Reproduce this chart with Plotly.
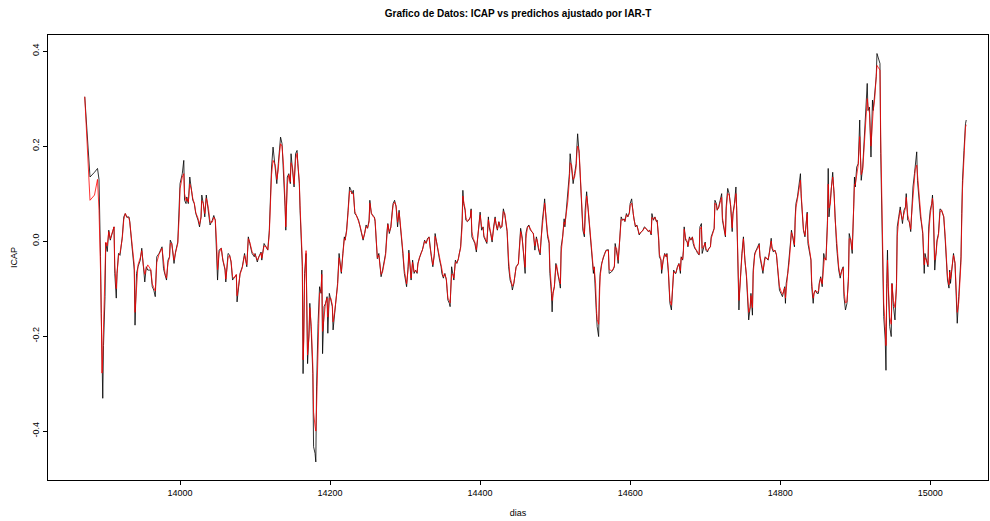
import plotly.graph_objects as go

# ---- data ----
dias = [
    13873, 13880, 13886, 13890, 13892, 13893, 13894, 13895, 13896, 13897,
    13898, 13900, 13901, 13903, 13905, 13907, 13912, 13913, 13915, 13916,
    13918, 13920, 13923, 13925, 13927, 13929, 13932, 13933, 13936, 13939,
    13940, 13942, 13944, 13947, 13949, 13951, 13953, 13955, 13957, 13961,
    13963, 13965, 13967, 13969, 13972, 13976, 13978, 13980, 13982, 13984,
    13986, 13987, 13989, 13992, 13994, 13997, 13999, 14000, 14003, 14005,
    14006, 14008, 14009, 14011, 14013, 14015, 14017, 14019, 14021, 14024,
    14026, 14028, 14029, 14031, 14033, 14035, 14036, 14038, 14040, 14043,
    14045, 14047, 14049, 14050, 14052, 14055, 14057, 14060,
    14061, 14064, 14066, 14068, 14070, 14072, 14075, 14076, 14078, 14080,
    14083, 14084, 14086, 14089, 14091, 14093, 14096, 14099, 14100, 14103,
    14105, 14108, 14109, 14112, 14115, 14117, 14119, 14120, 14122, 14124,
    14127, 14129, 14131, 14132, 14134, 14136, 14138, 14140, 14141, 14143,
    14145, 14147, 14148, 14150, 14152, 14154, 14156, 14157, 14159,
    14160, 14161, 14163, 14164, 14165, 14166, 14168, 14170, 14172, 14173,
    14175, 14177, 14178, 14180, 14181, 14182, 14184, 14186, 14188, 14189,
    14190, 14192, 14194, 14196, 14197, 14199, 14201, 14203, 14204, 14206,
    14208, 14210, 14212, 14213, 14215, 14217, 14219, 14220, 14222, 14224,
    14226, 14228, 14229, 14231, 14233, 14235, 14236, 14238, 14240, 14242,
    14244, 14246, 14248, 14250, 14252, 14253, 14255, 14257,
    14259, 14260, 14262, 14263, 14265, 14267, 14268, 14270, 14272, 14274,
    14276, 14277, 14279, 14281, 14283, 14284, 14286, 14288, 14290, 14292,
    14293, 14295, 14297, 14299, 14300, 14302, 14304, 14305, 14307, 14308,
    14310, 14312, 14314, 14316, 14317, 14319, 14321, 14323, 14324, 14326,
    14328, 14330, 14332, 14333, 14335, 14337, 14339, 14340, 14342, 14344,
    14346, 14348, 14349, 14351, 14353, 14355, 14356,
    14357, 14359, 14360, 14362, 14364, 14365, 14367, 14369, 14371, 14372,
    14374, 14376, 14377, 14378, 14380, 14381, 14383, 14385, 14387, 14388,
    14389, 14391, 14393, 14395, 14397, 14399, 14400, 14402, 14404, 14405,
    14407, 14409, 14411, 14412, 14414, 14416, 14418, 14420, 14421, 14423,
    14425, 14427, 14429, 14431, 14433, 14435, 14436, 14438, 14440, 14442,
    14443, 14445, 14447, 14448, 14451, 14452, 14454,
    14456, 14458, 14460, 14461, 14463, 14465, 14467, 14469, 14471, 14473,
    14475, 14476, 14478, 14480, 14481, 14483, 14485, 14486, 14488, 14490,
    14492, 14493, 14495, 14496, 14497, 14499, 14501, 14502, 14504, 14506,
    14507, 14508, 14510, 14512, 14513, 14515, 14517, 14519, 14520, 14522,
    14524, 14526, 14528, 14529, 14530, 14532, 14534, 14536, 14537, 14539,
    14540, 14542, 14544, 14546, 14548, 14549, 14551, 14552, 14554,
    14555, 14556, 14558, 14559, 14560, 14562, 14564, 14566, 14568, 14571,
    14572, 14575, 14577, 14579, 14580, 14582, 14583, 14584, 14586, 14588,
    14590, 14592, 14593, 14595, 14597, 14599, 14600, 14602, 14604, 14605,
    14607, 14609, 14611, 14612, 14615, 14617, 14619, 14621, 14624, 14626,
    14628, 14629, 14631, 14633, 14635, 14636, 14638, 14639, 14641, 14642,
    14644, 14646, 14648, 14649, 14651, 14652,
    14653, 14655, 14656, 14658, 14660, 14661, 14663, 14665, 14667, 14668,
    14670, 14671, 14672, 14674, 14676, 14677, 14679, 14681, 14683, 14684,
    14686, 14688, 14690, 14692, 14693, 14695, 14696, 14698, 14700, 14701,
    14703, 14705, 14707, 14708, 14710, 14712, 14713, 14715, 14716, 14718,
    14720, 14722, 14723, 14725, 14727, 14728, 14730, 14732, 14734, 14736,
    14737, 14739, 14741, 14742, 14744, 14745, 14746, 14747, 14749, 14751,
    14752, 14753, 14755, 14757, 14758, 14760, 14761, 14763, 14764, 14766,
    14768, 14770, 14772, 14773, 14775, 14777, 14779, 14780, 14782, 14784,
    14786, 14788, 14789, 14791, 14793, 14795, 14796, 14798, 14799, 14801,
    14803, 14804, 14806, 14807, 14808, 14810, 14812, 14814, 14815, 14817,
    14819, 14820, 14821, 14823, 14824, 14826, 14827, 14828, 14830, 14831,
    14833, 14835, 14836, 14837, 14839, 14841, 14842, 14844, 14845, 14847,
    14849,
    14851, 14852, 14854, 14856, 14858, 14859, 14861, 14863, 14864, 14865,
    14867, 14868, 14870, 14872, 14873, 14875, 14876, 14878, 14880, 14882,
    14884, 14885, 14887, 14889, 14891, 14892, 14894, 14896, 14898, 14899,
    14900, 14902, 14904, 14906, 14907, 14908, 14910, 14912, 14914, 14916,
    14917, 14919, 14921, 14923, 14924, 14926, 14928, 14929, 14931, 14933,
    14934, 14936, 14937, 14938, 14940, 14941, 14942, 14943, 14944, 14946,
    14948,
    14949, 14951, 14953, 14955, 14956, 14958, 14960, 14963, 14965, 14967,
    14968, 14970, 14972, 14974, 14975, 14977, 14979, 14980, 14982, 14983,
    14985, 14987, 14988, 14990, 14992, 14993, 14995, 14997, 14998, 15000,
    15002, 15003, 15004, 15006, 15008, 15009, 15011, 15013, 15015, 15016,
    15018, 15020, 15022, 15023, 15025, 15026, 15027, 15029, 15031, 15033,
    15035, 15036, 15038, 15039, 15041, 15042, 15043, 15045, 15046, 15047,
    15048,
]

icap = [
    0.304, 0.135, 0.145, 0.153, 0.130, 0.065, -0.033, -0.152, -0.257, -0.331,
    -0.220, -0.117, -0.004, -0.022, 0.023, 0.002, 0.030, -0.068, -0.120, -0.068,
    -0.026, -0.030, 0.009, 0.051, 0.058, 0.050, 0.051, 0.041, -0.012, -0.061,
    -0.177, -0.068, -0.054, -0.040, -0.015, -0.061, -0.086, -0.054, -0.061, -0.061,
    -0.096, -0.103, -0.117, -0.033, -0.026, -0.012, -0.058, -0.071, -0.082, -0.040,
    -0.033, 0.002, -0.005, -0.047, -0.023, -0.002, 0.065, 0.121, 0.142, 0.170,
    0.086, 0.079, 0.093, 0.079, 0.135, 0.107, 0.086, 0.079, 0.058, 0.044,
    0.030, 0.051, 0.097, 0.079, 0.051, 0.097, 0.086, 0.065, 0.034, 0.044,
    0.054, 0.044, -0.026, -0.082, -0.019, -0.015, -0.040, -0.061,
    -0.086, -0.026, -0.029, -0.044, -0.082, -0.078, -0.071, -0.128, -0.089, -0.068,
    -0.054, -0.047, -0.026, -0.054, 0.009, -0.005, -0.026, -0.033, -0.026, -0.044,
    -0.033, -0.023, -0.040, -0.005, -0.012, -0.019, 0.023, 0.086, 0.156, 0.198,
    0.149, 0.121, 0.163, 0.184, 0.219, 0.205, 0.149, 0.072, 0.023, 0.135,
    0.142, 0.121, 0.184, 0.149, 0.114, 0.184, 0.191, 0.163, 0.121,
    0.065, 0.023, -0.054, -0.279, -0.194, -0.068, -0.026, -0.258, -0.187, -0.131,
    -0.194, -0.279, -0.433, -0.447, -0.465, -0.307, -0.173, -0.096, -0.110, -0.061,
    -0.237, -0.138, -0.131, -0.117, -0.194, -0.110, -0.124, -0.138, -0.187, -0.152,
    -0.124, -0.089, -0.026, -0.047, -0.068, -0.026, 0.009, 0.002, 0.023, 0.065,
    0.114, 0.107, 0.100, 0.107, 0.058, 0.054, 0.051, 0.044, 0.030, 0.016,
    0.002, 0.016, 0.034, 0.027, 0.044, 0.086, 0.058, 0.054,
    0.051, 0.041, -0.033, -0.037, -0.026, -0.054, -0.075, -0.061, -0.040, -0.026,
    0.023, 0.037, 0.016, 0.030, 0.065, 0.079, 0.086, 0.072, 0.030, 0.065,
    0.044, 0.016, -0.026, -0.068, -0.075, -0.096, -0.054, -0.019, -0.061, -0.082,
    -0.040, -0.068, -0.061, -0.068, -0.047, -0.033, -0.026, -0.019, -0.012, 0.002,
    -0.005, 0.006, 0.009, -0.012, -0.033, -0.054, -0.026, 0.016, -0.005, -0.019,
    -0.040, -0.054, -0.068, -0.078, -0.068, -0.082, -0.103,
    -0.124, -0.131, -0.138, -0.054, -0.068, -0.082, -0.040, -0.047, -0.037, -0.026,
    -0.012, 0.044, 0.107, 0.079, 0.065, 0.044, 0.041, 0.044, 0.051, 0.068,
    0.009, 0.002, -0.005, -0.023, 0.016, 0.044, 0.061, 0.023, 0.030, 0.009,
    0.002, -0.005, 0.051, 0.030, 0.016, -0.002, 0.030, 0.051, 0.037, 0.023,
    0.041, 0.027, 0.030, 0.068, 0.054, 0.037, 0.020, -0.054, -0.082, -0.092,
    -0.103, -0.089, -0.061, -0.054, -0.047, -0.012, 0.027,
    0.009, -0.026, -0.068, 0.016, 0.030, 0.034, 0.023, 0.020, 0.016, -0.019,
    0.009, 0.002, -0.019, -0.029, 0.002, 0.044, 0.072, 0.089, 0.044, 0.009,
    -0.005, -0.068, -0.110, -0.149, -0.110, -0.096, -0.047, -0.054, -0.075, -0.089,
    -0.099, -0.012, 0.009, 0.047, 0.030, 0.065, 0.093, 0.142, 0.184, 0.156,
    0.121, 0.142, 0.163, 0.198, 0.226, 0.184, 0.121, 0.072, 0.023, 0.009,
    0.065, 0.104, 0.065, 0.030, -0.012, -0.040, -0.068, -0.054, -0.103,
    -0.152, -0.180, -0.201, -0.103, -0.068, -0.047, -0.033, -0.026, -0.019, -0.018,
    -0.068, -0.065, -0.061, -0.054, -0.005, -0.019, -0.033, -0.047, 0.002, 0.051,
    0.044, 0.047, 0.041, 0.058, 0.051, 0.061, 0.079, 0.089, 0.058, 0.044,
    0.030, 0.034, 0.020, 0.013, 0.020, 0.023, 0.030, 0.027, 0.020, 0.023,
    0.013, 0.058, 0.044, 0.051, 0.041, 0.044, 0.002, -0.033, -0.040, -0.068,
    -0.040, -0.026, -0.033, -0.026, -0.068, -0.117,
    -0.131, -0.145, -0.103, -0.061, -0.068, -0.068, -0.054, -0.047, -0.068, -0.033,
    -0.040, -0.019, 0.030, 0.002, -0.002, -0.012, 0.009, 0.002, 0.009, -0.005,
    -0.015, -0.019, -0.026, -0.029, 0.030, 0.037, -0.026, -0.012, -0.002, -0.019,
    -0.023, -0.015, -0.012, 0.009, 0.020, 0.027, 0.086, 0.079, 0.065, 0.072,
    0.086, 0.100, 0.044, 0.030, 0.009, 0.072, 0.111, 0.100, 0.072, 0.020,
    0.058, 0.079, 0.114, 0.065, -0.068, -0.145, -0.103, -0.068, -0.026, 0.009,
    -0.026, -0.040, -0.075, -0.124, -0.166, -0.138, -0.110, -0.156, -0.061, -0.026,
    -0.019, -0.015, -0.005, -0.033, -0.054, -0.068, -0.040, -0.033, -0.037, -0.040,
    -0.019, 0.006, -0.015, -0.023, -0.019, -0.029, -0.047, -0.082, -0.103, -0.110,
    -0.117, -0.110, -0.096, -0.131, -0.089, -0.068, -0.040, 0.002, 0.023, 0.009,
    -0.012, 0.051, 0.079, 0.093, 0.107, 0.128, 0.142, 0.093, 0.030, 0.023,
    0.009, 0.044, 0.061, -0.005, -0.019, -0.040, -0.096, -0.131, -0.110, -0.103,
    -0.110,
    -0.110, -0.089, -0.075, -0.096, -0.026, -0.033, -0.040, 0.044, 0.153, 0.051,
    0.086, 0.121, 0.145, 0.093, 0.044, -0.005, -0.026, -0.061, -0.078, -0.061,
    -0.054, -0.117, -0.145, -0.131, -0.075, 0.016, 0.002, -0.026, 0.072, 0.135,
    0.114, 0.156, 0.163, 0.255, 0.177, 0.128, 0.156, 0.212, 0.269, 0.332,
    0.275, 0.282, 0.177, 0.297, 0.275, 0.311, 0.346, 0.395, 0.381, 0.374,
    0.184, 0.002, -0.082, -0.159, -0.208, -0.272, -0.089, -0.019, -0.096, -0.180,
    -0.201,
    -0.089, -0.138, -0.166, -0.089, 0.030, 0.051, 0.072, 0.037, 0.065, 0.072,
    0.100, 0.044, 0.041, 0.020, 0.058, 0.114, 0.142, 0.163, 0.188, 0.128,
    0.079, 0.051, 0.041, 0.016, -0.068, -0.026, -0.040, -0.054, 0.030, 0.065,
    0.079, 0.097, 0.065, -0.061, -0.019, 0.002, 0.016, 0.068, 0.065, 0.061,
    0.051, 0.002, -0.054, -0.082, -0.099, -0.061, -0.089, -0.054, -0.026, -0.047,
    -0.117, -0.173, -0.117, -0.096, -0.033, 0.058, 0.128, 0.191, 0.233, 0.247,
    0.255,
]

predichos = [
    0.304, 0.086, 0.097, 0.130, 0.065, 0.020, -0.060, -0.150, -0.278, -0.240,
    -0.190, -0.060, -0.002, -0.010, 0.020, 0.005, 0.030, -0.050, -0.100, -0.070,
    -0.030, -0.025, 0.005, 0.045, 0.058, 0.052, 0.048, 0.040, 0.000, -0.050,
    -0.150, -0.090, -0.050, -0.035, -0.020, -0.050, -0.070, -0.058, -0.050, -0.060,
    -0.090, -0.098, -0.105, -0.045, -0.028, -0.015, -0.050, -0.068, -0.078, -0.045,
    -0.035, -0.005, -0.005, -0.040, -0.025, -0.005, 0.055, 0.110, 0.135, 0.142,
    0.100, 0.085, 0.090, 0.082, 0.120, 0.110, 0.090, 0.080, 0.060, 0.048,
    0.035, 0.050, 0.085, 0.080, 0.058, 0.090, 0.085, 0.068, 0.040, 0.040,
    0.050, 0.045, -0.010, -0.060, -0.025, -0.015, -0.038, -0.058,
    -0.080, -0.035, -0.030, -0.042, -0.075, -0.078, -0.070, -0.115, -0.095, -0.070,
    -0.056, -0.048, -0.030, -0.050, 0.005, -0.002, -0.022, -0.030, -0.028, -0.040,
    -0.035, -0.025, -0.036, -0.010, -0.012, -0.018, 0.015, 0.070, 0.140, 0.170,
    0.160, 0.130, 0.150, 0.175, 0.205, 0.200, 0.160, 0.085, 0.030, 0.120,
    0.140, 0.125, 0.165, 0.155, 0.120, 0.170, 0.185, 0.165, 0.125,
    0.075, 0.030, -0.040, -0.250, -0.210, -0.090, -0.020, -0.240, -0.200, -0.140,
    -0.180, -0.260, -0.360, -0.390, -0.400, -0.350, -0.200, -0.110, -0.105, -0.070,
    -0.190, -0.150, -0.130, -0.120, -0.160, -0.120, -0.120, -0.135, -0.170, -0.150,
    -0.125, -0.095, -0.035, -0.045, -0.065, -0.030, 0.005, 0.002, 0.020, 0.060,
    0.105, 0.105, 0.100, 0.100, 0.062, 0.055, 0.050, 0.045, 0.032, 0.018,
    0.005, 0.015, 0.030, 0.028, 0.040, 0.080, 0.060, 0.052,
    0.050, 0.045, -0.020, -0.035, -0.030, -0.050, -0.070, -0.065, -0.045, -0.030,
    0.015, 0.035, 0.020, 0.028, 0.060, 0.075, 0.082, 0.075, 0.040, 0.060,
    0.048, 0.020, -0.020, -0.060, -0.072, -0.090, -0.060, -0.025, -0.055, -0.078,
    -0.045, -0.065, -0.062, -0.066, -0.050, -0.035, -0.028, -0.020, -0.014, 0.000,
    -0.004, 0.004, 0.008, -0.010, -0.030, -0.050, -0.030, 0.010, -0.002, -0.018,
    -0.038, -0.052, -0.065, -0.075, -0.070, -0.080, -0.100,
    -0.120, -0.125, -0.130, -0.070, -0.070, -0.078, -0.045, -0.045, -0.038, -0.028,
    -0.015, 0.030, 0.095, 0.085, 0.068, 0.050, 0.042, 0.045, 0.050, 0.065,
    0.020, 0.005, -0.002, -0.018, 0.010, 0.040, 0.055, 0.030, 0.028, 0.012,
    0.005, -0.002, 0.045, 0.035, 0.018, 0.002, 0.025, 0.048, 0.040, 0.025,
    0.040, 0.030, 0.030, 0.062, 0.058, 0.040, 0.022, -0.040, -0.075, -0.088,
    -0.095, -0.088, -0.065, -0.055, -0.048, -0.015, 0.020,
    0.005, -0.020, -0.055, 0.005, 0.028, 0.032, 0.025, 0.020, 0.015, -0.010,
    0.005, 0.002, -0.015, -0.025, 0.000, 0.035, 0.065, 0.080, 0.050, 0.015,
    0.000, -0.055, -0.095, -0.125, -0.115, -0.095, -0.055, -0.050, -0.070, -0.085,
    -0.090, -0.025, 0.005, 0.040, 0.035, 0.060, 0.085, 0.130, 0.165, 0.160,
    0.130, 0.135, 0.155, 0.185, 0.200, 0.190, 0.130, 0.080, 0.030, 0.015,
    0.055, 0.095, 0.070, 0.035, -0.005, -0.035, -0.060, -0.055, -0.090,
    -0.140, -0.165, -0.175, -0.115, -0.075, -0.050, -0.035, -0.028, -0.020, -0.020,
    -0.060, -0.062, -0.060, -0.052, -0.012, -0.015, -0.030, -0.040, 0.000, 0.045,
    0.045, 0.045, 0.042, 0.055, 0.052, 0.058, 0.075, 0.080, 0.062, 0.046,
    0.032, 0.032, 0.022, 0.015, 0.020, 0.022, 0.028, 0.027, 0.021, 0.022,
    0.015, 0.050, 0.046, 0.050, 0.042, 0.042, 0.008, -0.028, -0.038, -0.060,
    -0.042, -0.028, -0.032, -0.028, -0.062, -0.105,
    -0.125, -0.135, -0.110, -0.065, -0.066, -0.066, -0.056, -0.048, -0.062, -0.035,
    -0.038, -0.022, 0.025, 0.005, 0.000, -0.010, 0.006, 0.003, 0.008, -0.002,
    -0.012, -0.018, -0.024, -0.028, 0.025, 0.030, -0.015, -0.012, -0.004, -0.016,
    -0.020, -0.016, -0.012, 0.005, 0.018, 0.026, 0.080, 0.075, 0.066, 0.070,
    0.082, 0.092, 0.050, 0.032, 0.012, 0.065, 0.100, 0.098, 0.075, 0.028,
    0.055, 0.075, 0.100, 0.070, -0.050, -0.125, -0.105, -0.070, -0.030, 0.005,
    -0.030, -0.042, -0.070, -0.115, -0.150, -0.140, -0.115, -0.140, -0.070, -0.030,
    -0.020, -0.016, -0.008, -0.030, -0.050, -0.062, -0.045, -0.035, -0.036, -0.038,
    -0.022, 0.000, -0.012, -0.020, -0.020, -0.028, -0.045, -0.075, -0.095, -0.105,
    -0.112, -0.108, -0.098, -0.120, -0.095, -0.070, -0.045, -0.005, 0.018, 0.010,
    -0.008, 0.040, 0.070, 0.088, 0.100, 0.118, 0.128, 0.100, 0.040, 0.025,
    0.012, 0.040, 0.058, 0.005, -0.015, -0.038, -0.085, -0.120, -0.112, -0.104,
    -0.108,
    -0.105, -0.092, -0.078, -0.090, -0.035, -0.035, -0.040, 0.030, 0.120, 0.070,
    0.080, 0.110, 0.135, 0.100, 0.050, 0.005, -0.022, -0.055, -0.072, -0.064,
    -0.056, -0.105, -0.130, -0.128, -0.085, 0.005, 0.005, -0.018, 0.060, 0.120,
    0.118, 0.145, 0.160, 0.220, 0.190, 0.140, 0.150, 0.200, 0.250, 0.300,
    0.285, 0.270, 0.200, 0.270, 0.275, 0.300, 0.335, 0.370, 0.365, 0.360,
    0.220, 0.040, -0.060, -0.130, -0.180, -0.220, -0.110, -0.040, -0.090, -0.160,
    -0.175,
    -0.090, -0.125, -0.140, -0.100, 0.010, 0.045, 0.065, 0.045, 0.060, 0.070,
    0.092, 0.055, 0.042, 0.025, 0.052, 0.100, 0.130, 0.150, 0.160, 0.140,
    0.090, 0.058, 0.045, 0.020, -0.050, -0.035, -0.040, -0.050, 0.015, 0.055,
    0.075, 0.090, 0.075, -0.040, -0.025, -0.002, 0.012, 0.060, 0.066, 0.060,
    0.052, 0.010, -0.045, -0.075, -0.092, -0.065, -0.080, -0.058, -0.030, -0.045,
    -0.105, -0.150, -0.130, -0.100, -0.045, 0.040, 0.110, 0.175, 0.220, 0.240,
    0.245,
]

x_ticks = [14000, 14200, 14400, 14600, 14800, 15000]
x_tick_labels = ["14000", "14200", "14400", "14600", "14800", "15000"]
y_ticks = [-0.4, -0.2, 0.0, 0.2, 0.4]
y_tick_labels = ["-0.4", "-0.2", "0.0", "0.2", "0.4"]

FONT = "Liberation Sans, Arial, sans-serif"

fig = go.Figure()
fig.add_trace(go.Scatter(x=dias, y=icap, mode="lines", name="ICAP",
                         line=dict(color="black", width=0.8)))
fig.add_trace(go.Scatter(x=dias, y=predichos, mode="lines", name="predichos",
                         line=dict(color="red", width=0.8)))

fig.update_layout(
    width=990, height=521,
    margin=dict(l=48, r=2, t=35, b=41),
    paper_bgcolor="white", plot_bgcolor="white",
    showlegend=False,
    font=dict(family=FONT, color="black", size=9),
    title=dict(text="<b>Grafico de Datos: ICAP vs predichos ajustado por IAR-T</b>",
               x=0.5, xref="paper", xanchor="center",
               y=1 - 13 / 521, yref="container", yanchor="middle",
               font=dict(family=FONT, size=10, color="black")),
)
fig.update_xaxes(
    range=[13824, 15077], tickmode="array", tickvals=x_ticks, ticktext=x_tick_labels,
    ticks="outside", ticklen=4, tickcolor="black", tickwidth=1,
    showline=True, linecolor="black", linewidth=1, mirror=True,
    showgrid=False, zeroline=False,
    tickfont=dict(size=9, family=FONT, color="black"),
    title=dict(text="dias", font=dict(size=9, family=FONT, color="black"), standoff=12),
)
fig.update_yaxes(
    range=[-0.503, 0.434], tickmode="array", tickvals=y_ticks, ticktext=y_tick_labels,
    ticks="outside", ticklen=4, tickcolor="black", tickwidth=1, tickangle=-90,
    showline=True, linecolor="black", linewidth=1, mirror=True,
    showgrid=False, zeroline=False,
    tickfont=dict(size=9, family=FONT, color="black"),
    title=dict(text="ICAP", font=dict(size=9, family=FONT, color="black"), standoff=12),
)

fig.write_html("out.html")
